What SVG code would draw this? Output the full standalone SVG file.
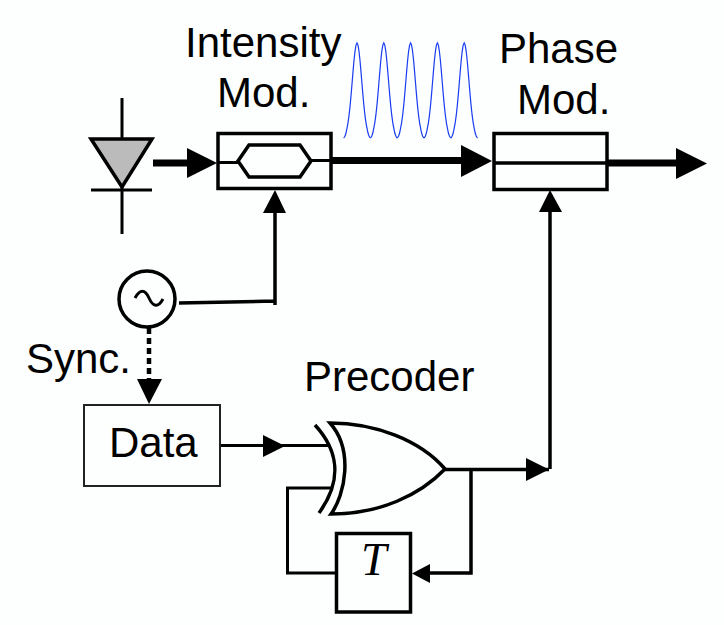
<svg xmlns="http://www.w3.org/2000/svg" width="724" height="625" viewBox="0 0 724 625">
<style>
text{font-family:"Liberation Sans",Arial,sans-serif;font-size:42px;fill:#000}
.l{fill:none;stroke:#000;stroke-width:3.5}
.w{fill:none;stroke:#000;stroke-width:3}
.t{fill:none;stroke:#000;stroke-width:7}
.h{fill:#000;stroke:none}
</style>
<defs>
<polyline id="pulse" fill="none" stroke="#1a3cf0" stroke-width="1.200" points="-13.400,0 -13,-.3 -12,-2 -11,-5 -10,-9.900 -9,-15.200 -8,-22.300 -7,-31.400 -6,-42.100 -5,-54 -4,-66.100 -3,-77.500 -2,-86.700 -1,-92.900 0,-95 1,-92.900 2,-86.700 3,-77.500 4,-66.100 5,-54 6,-42.100 7,-31.400 8,-22.300 9,-15.200 10,-9.900 11,-5 12,-2 13,-.3 13.400,0"/>
</defs>
<rect width="724" height="625" fill="#fcfffe"/>
<g id="connectors">
<path class="t" d="M153,163H190"/>
<path class="h" d="M187,148L217,163L187,178Z"/>
<path class="t" d="M332,160.500H464"/>
<path class="h" d="M461,145L492,161L461,177Z"/>
<path class="t" d="M608,163H680"/>
<path class="h" d="M676,148L707,163.500L676,179Z"/>
<path class="l" d="M275,212V305M179,303L275,301"/>
<path class="h" d="M275,190L286,213H263Z"/>
<path class="l" d="M550,212V469"/>
<path class="h" d="M550,190L562,212H539Z"/>
<path d="M149,328V381" fill="none" stroke="#000" stroke-width="4.500" stroke-dasharray="6 4"/>
<path class="h" d="M137,379H162L149,404Z"/>
<path class="w" d="M220,445.500H328"/>
<path class="h" d="M263,435L285,446L263,457Z"/>
<path class="l" d="M445,469.500H549"/>
<path class="h" d="M526,458L549,469.500L526,481Z"/>
<path class="l" d="M471,469V573H428"/>
<path class="h" d="M412,573.500L430,564V583Z"/>
<path class="w" d="M332,488H287.500V573H336"/>
</g>
<g id="laser">
<path d="M122,98V234" class="w"/>
<path d="M91,139H152L122,187Z" fill="#bbb" stroke="#000" stroke-width="3.500"/>
<path d="M91,190H152" class="w"/>
</g>
<g id="intensity-mod">
<rect x="218" y="133.500" width="113" height="55" fill="none" stroke="#000" stroke-width="3.500"/>
<path class="w" d="M218,162.500H238M311,160.500H331"/>
<path class="l" d="M238,161L249,145H300L311,161L300,177H249Z"/>
<text x="185" y="57">Intensity</text>
<text x="217" y="107">Mod.</text>
</g>
<g id="pulses">
<use href="#pulse" x="357" y="138"/>
<use href="#pulse" x="383.800" y="138"/>
<use href="#pulse" x="410.600" y="138"/>
<use href="#pulse" x="437.400" y="138"/>
<use href="#pulse" x="464.200" y="138"/>
</g>
<g id="phase-mod">
<rect x="494" y="133.500" width="113" height="56" fill="none" stroke="#000" stroke-width="3.500"/>
<path class="l" d="M494,163H607"/>
<text x="499" y="63">Phase</text>
<text x="517" y="114">Mod.</text>
</g>
<g id="oscillator">
<circle cx="147" cy="299" r="28" fill="none" stroke="#000" stroke-width="3.500"/>
<path class="w" d="M135,298C140,289 145,289 149,298S158,308 163,299"/>
</g>
<text id="sync" x="26" y="373">Sync.</text>
<g id="data">
<rect x="84" y="405" width="136" height="81" fill="none" stroke="#222" stroke-width="2"/>
<text x="109" y="457">Data</text>
</g>
<g id="precoder">
<path class="l" d="M330,423C375,423 420,440 445,469C420,495 380,514 331,514C345,495 354,450 330,423Z"/>
<path class="l" d="M315,425C338,450 343,480 319,513"/>
<text x="304" y="391">Precoder</text>
</g>
<g id="delay">
<rect x="336.500" y="533.500" width="74" height="78.500" fill="none" stroke="#000" stroke-width="3.500"/>
<text x="361" y="575" style="font-family:'Liberation Serif',serif;font-style:italic;font-size:46px">T</text>
</g>
</svg>
